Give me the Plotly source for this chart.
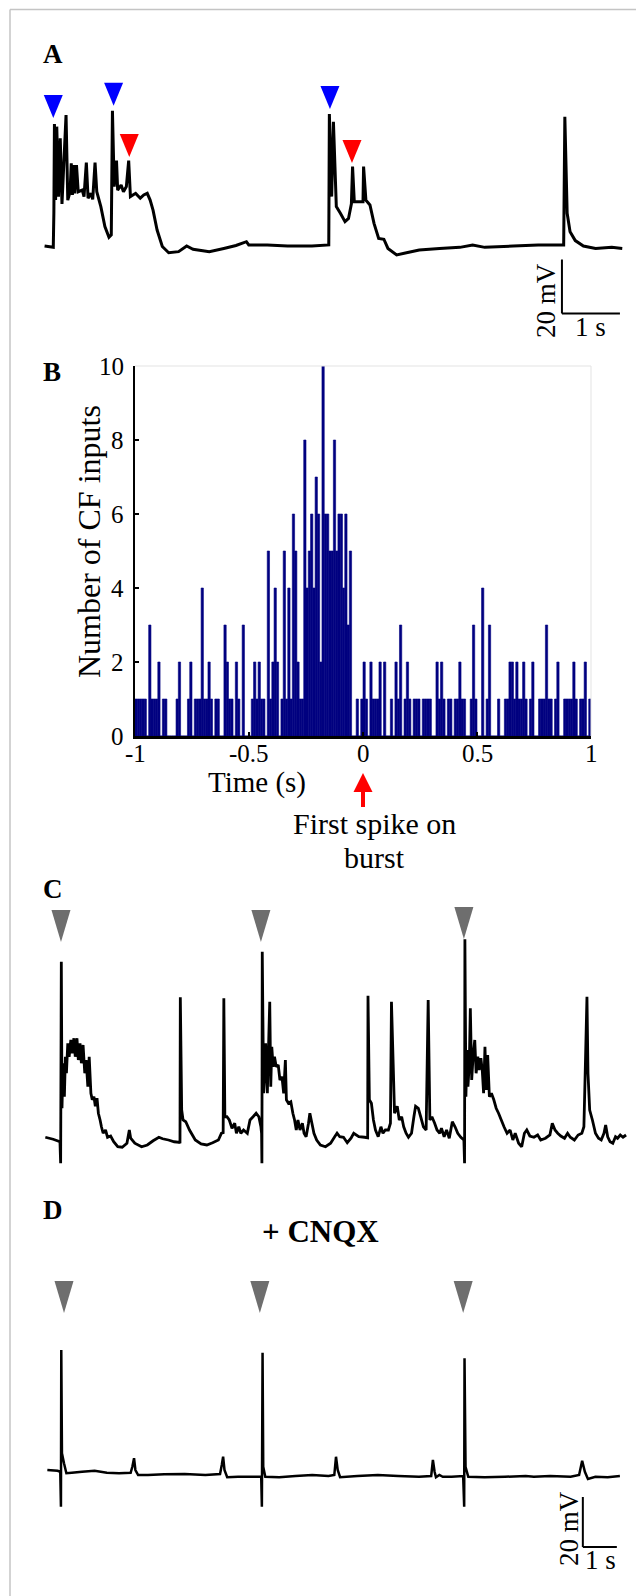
import plotly.graph_objects as go

PAGE_W, PAGE_H = 644, 1596
BODY = 8  # default page margin of the html body
W, H = PAGE_W - BODY, PAGE_H - BODY
FONT = "Liberation Serif"

# ---------------- Panel A : membrane potential (s, mV) ----------------
a_time = [0.01,0.16,0.17,0.18,0.20,0.22,0.25,0.28,0.31,0.38,
          0.41,0.45,0.47,0.49,0.51,0.53,0.56,0.59,0.66,0.69,
          0.73,0.76,0.81,0.84,0.88,0.91,0.98,1.05,1.12,1.16,
          1.18,1.21,1.25,1.27,1.33,1.37,1.42,1.46,1.49,1.58,
          1.66,1.72,1.78,1.83,1.88,1.95,2.04,2.15,2.32,2.46,
          2.57,2.85,3.10,3.31,3.49,3.53,3.85,4.20,4.62,4.91,
          4.92,4.96,4.99,5.04,5.11,5.19,5.25,5.30,5.32,5.35,
          5.44,5.50,5.51,5.55,5.62,5.69,5.77,5.86,5.93,6.08,
          6.25,6.47,6.82,7.17,7.39,7.60,8.09,8.52,8.96,8.98,
          9.02,9.07,9.16,9.30,9.51,9.79,9.97]
a_mv = [-65.0,-65.5,-52.9,-19.8,-48.0,-20.8,-46.7,-25.1,-49.4,-16.5,
        -48.0,-44.9,-34.4,-46.1,-35.0,-45.5,-35.0,-44.9,-44.3,-46.7,
        -34.1,-47.3,-45.5,-47.7,-34.1,-44.9,-50.4,-57.8,-61.8,-60.9,
        -14.9,-43.0,-33.4,-44.3,-42.4,-44.9,-43.0,-33.4,-46.7,-45.5,
        -47.3,-46.1,-45.5,-48.0,-51.7,-59.1,-65.2,-67.5,-67.1,-65.0,
        -66.2,-67.1,-65.9,-64.8,-63.4,-64.6,-64.6,-65.0,-65.0,-64.6,
        -16.1,-46.7,-19.0,-50.4,-52.9,-56.0,-54.8,-49.4,-35.6,-48.6,
        -48.6,-48.6,-35.6,-48.0,-49.8,-56.6,-62.2,-62.5,-65.9,-68.3,
        -67.5,-66.5,-65.9,-65.5,-64.6,-65.5,-65.0,-64.6,-64.6,-17.1,
        -52.9,-59.7,-63.0,-65.0,-65.9,-65.5,-65.9]
a_blue_time = [0.16, 1.20, 4.93]
a_blue_mv = [-17.6, -13.1, -14.3]
a_red_time = [1.47, 5.31]
a_red_mv = [-32.0, -34.3]
a_scalebar_time = 8.93
a_scalebar_mv = -90.0

# ---------------- Panel B : histogram of CF inputs ----------------
b_bin_start = -1.0
b_bin_width = 0.01
b_counts = [1,1,1,1,1,0,3,1,1,1,
            2,0,1,1,0,0,0,0,1,2,
            0,0,0,1,2,0,1,1,1,4,
            1,1,2,1,0,1,1,0,0,3,
            2,1,1,0,2,1,0,3,0,0,
            0,1,2,1,2,1,1,0,5,1,
            2,4,2,0,1,5,1,4,1,6,
            5,2,1,1,8,4,5,6,4,7,
            6,2,10,6,6,5,5,8,5,6,
            6,4,6,3,5,0,0,1,0,1,
            2,1,0,2,1,1,1,2,0,2,
            0,0,1,0,2,1,3,0,1,2,
            1,0,1,1,1,0,1,1,1,1,
            0,0,2,1,2,1,0,1,1,0,
            1,1,2,1,1,0,0,1,3,1,
            0,0,4,0,1,3,0,0,0,1,
            0,0,1,1,2,2,1,2,1,1,
            2,1,0,1,2,0,0,1,1,1,
            3,1,1,0,1,2,0,0,1,1,
            1,1,2,1,0,1,1,2,0,1]
b_xticks = [-1, -0.5, 0, 0.5, 1]
b_xticklabels = ["-1", "-0.5", "0", "0.5", "1"]
b_yticks = [0, 2, 4, 6, 8, 10]
b_yticklabels = ["0", "2", "4", "6", "8", "10"]
b_arrow_time = 0.0

# ---------------- Panel C ----------------
c_time = [0.01,0.24,0.44,0.46,0.48,0.50,0.53,0.57,0.60,0.63,
          0.67,0.71,0.76,0.80,0.85,0.89,0.94,0.98,1.03,1.07,
          1.12,1.17,1.21,1.26,1.30,1.35,1.39,1.44,1.48,1.53,
          1.57,1.62,1.66,1.71,1.78,1.84,1.93,2.02,2.14,2.27,
          2.41,2.48,2.52,2.64,2.84,3.01,3.18,3.35,3.46,3.63,
          3.80,3.95,3.97,3.98,4.02,4.06,4.14,4.25,4.42,4.59,
          4.76,4.93,5.10,5.19,5.24,5.26,5.29,5.35,5.42,5.50,
          5.58,5.63,5.70,5.76,5.84,5.95,6.03,6.12,6.21,6.29,
          6.35,6.37,6.38,6.39,6.43,6.46,6.49,6.54,6.57,6.61,
          6.64,6.67,6.71,6.75,6.80,6.86,6.91,6.97,7.02,7.07,
          7.10,7.16,7.23,7.29,7.34,7.39,7.44,7.50,7.57,7.62,
          7.68,7.75,7.79,7.85,7.91,7.99,8.10,8.25,8.40,8.52,
          8.59,8.67,8.78,8.89,9.00,9.08,9.23,9.40,9.49,9.50,
          9.54,9.60,9.66,9.72,9.80,9.88,9.94,10.01,10.10,10.16,
          10.19,10.24,10.28,10.36,10.42,10.49,10.55,10.62,10.69,10.78,
          10.85,10.90,10.98,11.05,11.13,11.21,11.27,11.32,11.38,11.46,
          11.53,11.61,11.66,11.74,11.81,11.89,11.98,12.06,12.14,12.23,
          12.32,12.34,12.35,12.38,12.41,12.44,12.48,12.51,12.55,12.59,
          12.64,12.68,12.73,12.77,12.82,12.86,12.90,12.94,12.98,13.02,
          13.07,13.13,13.20,13.27,13.34,13.42,13.50,13.59,13.68,13.76,
          13.83,13.93,14.02,14.10,14.17,14.26,14.38,14.49,14.58,14.72,
          14.85,14.92,15.00,15.08,15.17,15.28,15.37,15.45,15.57,15.68,
          15.79,15.85,15.89,15.94,15.97,16.02,16.10,16.19,16.28,16.36,
          16.44,16.49,16.55,16.62,16.70,16.78,16.84,16.92,17.00,17.09]
c_mv = [-64.7,-65.5,-66.5,-75.1,5.5,-53.1,-35.1,-48.5,-32.5,-39.1,
        -27.1,-32.5,-25.8,-31.1,-25.1,-32.5,-25.1,-33.8,-27.1,-35.1,
        -27.8,-39.1,-33.8,-44.5,-32.5,-47.1,-49.7,-48.5,-52.3,-49.1,
        -55.1,-57.8,-60.5,-63.1,-61.8,-64.7,-64.2,-66.5,-68.5,-68.7,
        -67.1,-61.8,-65.1,-67.1,-68.5,-67.8,-66.1,-64.7,-65.3,-65.8,
        -66.5,-66.7,-67.1,-8.7,-53.8,-57.8,-58.5,-61.8,-65.8,-67.4,
        -67.8,-66.9,-65.8,-63.1,-62.9,-9.1,-56.5,-56.5,-57.8,-61.1,
        -59.1,-63.1,-60.5,-63.1,-61.8,-63.1,-57.8,-56.5,-55.1,-56.5,
        -60.5,-63.1,-75.1,9.5,-47.1,-39.1,-27.1,-47.1,-31.1,-10.5,
        -44.5,-28.5,-36.5,-32.5,-36.5,-35.8,-41.8,-40.5,-47.1,-33.8,
        -49.7,-51.1,-50.5,-55.1,-57.8,-61.8,-57.8,-61.8,-59.1,-63.1,
        -64.5,-59.1,-55.1,-59.1,-63.1,-65.8,-67.8,-68.5,-67.1,-64.5,
        -63.1,-64.5,-64.7,-66.9,-65.1,-63.1,-64.5,-64.7,-64.9,-8.1,
        -49.7,-51.1,-57.8,-61.8,-64.5,-60.5,-63.1,-61.8,-61.8,-59.1,
        -10.5,-35.1,-55.1,-52.3,-57.8,-56.5,-60.5,-63.1,-64.7,-63.1,
        -56.5,-52.3,-53.1,-56.5,-60.5,-61.8,-9.8,-57.8,-56.5,-59.1,
        -61.8,-63.1,-61.1,-64.5,-61.8,-65.1,-58.5,-60.5,-63.1,-64.7,
        -65.8,-75.1,14.5,-48.5,-29.8,-44.5,-35.1,-13.1,-41.8,-32.5,
        -25.8,-39.1,-32.5,-37.8,-33.1,-37.8,-47.1,-28.5,-45.8,-31.8,
        -48.5,-47.1,-49.7,-53.1,-55.1,-57.8,-60.5,-63.1,-61.8,-65.8,
        -63.1,-67.1,-68.5,-63.1,-61.8,-64.2,-64.7,-63.8,-65.8,-65.1,
        -63.8,-59.1,-61.8,-63.1,-64.2,-65.1,-63.1,-64.7,-65.8,-63.8,
        -63.1,-60.5,-37.8,-8.5,-39.1,-53.8,-57.8,-63.1,-65.1,-65.8,
        -63.1,-59.8,-64.5,-66.5,-67.1,-64.5,-65.1,-63.8,-64.7,-63.8]
c_marker_time = [0.47, 6.35, 12.32]
c_marker_mv = [13.4, 13.4, 14.6]

# ---------------- Panel D (+ CNQX) ----------------
d_time = [0.01,0.31,0.39,0.41,0.42,0.44,0.50,0.57,0.73,1.03,
          1.40,1.76,2.12,2.46,2.51,2.56,2.60,2.68,2.97,3.45,
          4.05,4.66,5.09,5.14,5.18,5.22,5.30,5.62,6.11,6.30,
          6.32,6.34,6.36,6.42,6.83,7.31,7.80,8.28,8.45,8.50,
          8.55,8.62,9.13,9.73,10.33,10.94,11.30,11.35,11.40,11.44,
          11.54,11.64,11.90,12.24,12.27,12.28,12.31,12.39,12.87,13.47,
          14.08,14.32,14.80,15.40,15.65,15.74,15.82,15.91,16.13,16.49,
          16.85]
d_mv = [-65.0,-65.3,-65.7,-79.7,-17.0,-58.3,-62.3,-66.3,-66.1,-65.7,
        -65.3,-66.1,-66.3,-66.1,-63.7,-60.3,-65.0,-67.0,-67.0,-66.7,
        -66.6,-67.0,-66.6,-63.0,-59.7,-65.0,-67.9,-67.7,-67.7,-67.7,
        -79.7,-18.1,-63.7,-67.7,-67.9,-67.4,-67.0,-67.4,-67.0,-59.7,
        -65.0,-67.9,-67.4,-67.0,-67.4,-67.7,-67.4,-61.0,-65.7,-67.9,
        -67.0,-67.7,-67.7,-67.4,-79.7,-20.3,-63.7,-67.7,-67.9,-67.7,
        -67.4,-67.7,-67.4,-67.7,-67.0,-61.3,-65.7,-68.6,-67.7,-67.9,
        -67.4]
d_marker_time = [0.50, 6.26, 12.24]
d_marker_mv = [-2.2, -2.2, -2.2]
d_scalebar_time = 15.76
d_scalebar_mv = -95.8

scale_mv = 20
scale_s = 1


# ---------------- helpers (page pixel -> paper) ----------------
def px(x):
    return (x - BODY) / W


def py(y):
    return 1 - (y - BODY) / H


def trace_axes(box, x0_px, px_per_s, y0_px, v0, px_per_mv):
    left, top, right, bottom = box
    xa = dict(domain=[px(left), px(right)],
              range=[(left - x0_px) / px_per_s, (right - x0_px) / px_per_s],
              visible=False, fixedrange=True, automargin=False)
    ya = dict(domain=[py(bottom), py(top)],
              range=[v0 - (bottom - y0_px) / px_per_mv, v0 + (y0_px - top) / px_per_mv],
              visible=False, fixedrange=True, automargin=False)
    return xa, ya


def tri_shape(xref, yref, t, v, w, h, color):
    return dict(type="path", xref=xref, yref=yref, xsizemode="pixel", ysizemode="pixel",
                xanchor=t, yanchor=v,
                path=f"M {-w/2},{h} L {w/2},{h} L 0,0 Z",
                fillcolor=color, line=dict(width=0), layer="above")


def scalebar(xref, yref, t0, v0):
    return [dict(type="line", xref=xref, yref=yref, x0=t0, x1=t0, y0=v0, y1=v0 + scale_mv,
                 line=dict(color="black", width=2)),
            dict(type="line", xref=xref, yref=yref, x0=t0, x1=t0 + scale_s, y0=v0, y1=v0,
                 line=dict(color="black", width=2))]


fig = go.Figure()

fig.add_trace(go.Scatter(x=a_time, y=a_mv, mode="lines", xaxis="x", yaxis="y",
                         line=dict(color="black", width=3, simplify=False), hoverinfo="skip"))
b_centers = [b_bin_start + b_bin_width * (i + 0.5) for i in range(len(b_counts))]
fig.add_trace(go.Bar(x=b_centers, y=b_counts, width=b_bin_width, xaxis="x2", yaxis="y2",
                     marker=dict(color="#000080", line=dict(width=0.6, color="#000080")),
                     hoverinfo="skip"))
fig.add_trace(go.Scatter(x=c_time, y=c_mv, mode="lines", xaxis="x3", yaxis="y3",
                         line=dict(color="black", width=2.8, simplify=False), hoverinfo="skip"))
fig.add_trace(go.Scatter(x=d_time, y=d_mv, mode="lines", xaxis="x4", yaxis="y4",
                         line=dict(color="black", width=2.5, simplify=False), hoverinfo="skip"))

xa1, ya1 = trace_axes((12, 60, 644, 345), 44, 58, 246, -65, 2.7)
xa3, ya3 = trace_axes((12, 895, 644, 1180), 45, 34, 1138, -65, 2.5)
xa4, ya4 = trace_axes((12, 1270, 644, 1580), 47, 34, 1470, -65, 2.5)

xa2 = dict(domain=[px(135), px(591)], range=[-1, 1], anchor="y2",
           showline=True, linecolor="black", linewidth=2.5, mirror=False,
           ticks="inside", ticklen=4, tickwidth=1.5, tickcolor="black",
           tickvals=b_xticks, showticklabels=False,
           showgrid=False, zeroline=False, fixedrange=True, automargin=False)
ya2 = dict(domain=[py(736), py(366)], range=[0, 10], anchor="x2",
           showline=True, linecolor="black", linewidth=2.5, mirror=False,
           ticks="inside", ticklen=4, tickwidth=1.5, tickcolor="black",
           tickvals=b_yticks, showticklabels=False,
           showgrid=False, zeroline=False, fixedrange=True, automargin=False)

xa1["anchor"] = "y"
ya1["anchor"] = "x"
xa3["anchor"] = "y3"
ya3["anchor"] = "x3"
xa4["anchor"] = "y4"
ya4["anchor"] = "x4"

shapes = []
shapes.append(dict(type="line", xref="paper", yref="paper", x0=px(10), x1=1, y0=py(9.5), y1=py(9.5),
                   line=dict(color="#c4c4c4", width=1.5)))
shapes.append(dict(type="line", xref="paper", yref="paper", x0=px(10), x1=px(10), y0=0, y1=py(9.5),
                   line=dict(color="#c4c4c4", width=1.5)))
shapes.append(dict(type="line", xref="x2 domain", yref="y2 domain", x0=0, x1=1, y0=1, y1=1,
                   line=dict(color="#e3e3e3", width=1)))
shapes.append(dict(type="line", xref="x2 domain", yref="y2 domain", x0=1, x1=1, y0=0, y1=1,
                   line=dict(color="#e3e3e3", width=1)))

for t, v in zip(a_blue_time, a_blue_mv):
    shapes.append(tri_shape("x", "y", t, v, 19, 23, "#0000FF"))
for t, v in zip(a_red_time, a_red_mv):
    shapes.append(tri_shape("x", "y", t, v, 19, 23, "#FF0000"))
for t, v in zip(c_marker_time, c_marker_mv):
    shapes.append(tri_shape("x3", "y3", t, v, 19, 32, "#6E6E6E"))
for t, v in zip(d_marker_time, d_marker_mv):
    shapes.append(tri_shape("x4", "y4", t, v, 19, 32, "#6E6E6E"))

shapes += scalebar("x", "y", a_scalebar_time, a_scalebar_mv)
shapes += scalebar("x4", "y4", d_scalebar_time, d_scalebar_mv)

shapes.append(dict(type="path", xref="x2", yref="paper", xsizemode="pixel", ysizemode="pixel",
                   xanchor=b_arrow_time, yanchor=py(773),
                   path="M 0,0 L 9.5,-19 L 2,-19 L 2,-34 L -2,-34 L -2,-19 L -9.5,-19 Z",
                   fillcolor="#FF0000", line=dict(width=0)))

annotations = []


def text(x, y, s, size, bold=False, angle=0, xanchor="center"):
    annotations.append(dict(xref="paper", yref="paper", x=px(x), y=py(y), text=f"<b>{s}</b>" if bold else s,
                            showarrow=False, xanchor=xanchor, yanchor="middle", textangle=angle,
                            borderpad=0,
                            font=dict(family=FONT, size=size, color="black")))


# tick labels of panel B
for v, lab in zip(b_xticks, b_xticklabels):
    annotations.append(dict(xref="x2", yref="paper", x=v, y=py(753), text=lab, showarrow=False,
                            xanchor="center", yanchor="middle", borderpad=0,
                            font=dict(family=FONT, size=25, color="black")))
for v, lab in zip(b_yticks, b_yticklabels):
    annotations.append(dict(xref="paper", yref="y2", x=px(125), y=v, text=lab, showarrow=False,
                            xanchor="right", yanchor="middle", borderpad=0,
                            font=dict(family=FONT, size=25, color="black")))

text(53, 54, "A", 27, bold=True)
text(52, 372, "B", 27, bold=True)
text(53, 889, "C", 27, bold=True)
text(53, 1210, "D", 27, bold=True)
text(320, 1231, "+ CNQX", 31, bold=True)
text(89, 542, "Number of CF inputs", 32, angle=-90)
text(257, 782, "Time (s)", 29)
text(374, 823, "First spike on", 30)
text(374, 857, "burst", 30)
text(546, 301, "20 mV", 27, angle=-90)
text(590, 327, "1 s", 27)
text(569, 1529, "20 mV", 27, angle=-90)
text(600, 1560, "1 s", 27)

fig.update_layout(
    template="none",
    width=W, height=H, autosize=False,
    margin=dict(l=0, r=0, t=0, b=0, pad=0, autoexpand=False),
    paper_bgcolor="white", plot_bgcolor="rgba(0,0,0,0)",
    showlegend=False, bargap=0,
    xaxis=xa1, yaxis=ya1, xaxis2=xa2, yaxis2=ya2,
    xaxis3=xa3, yaxis3=ya3, xaxis4=xa4, yaxis4=ya4,
    shapes=shapes, annotations=annotations,
)

fig.write_html("out.html", config={"displayModeBar": False, "staticPlot": True})
